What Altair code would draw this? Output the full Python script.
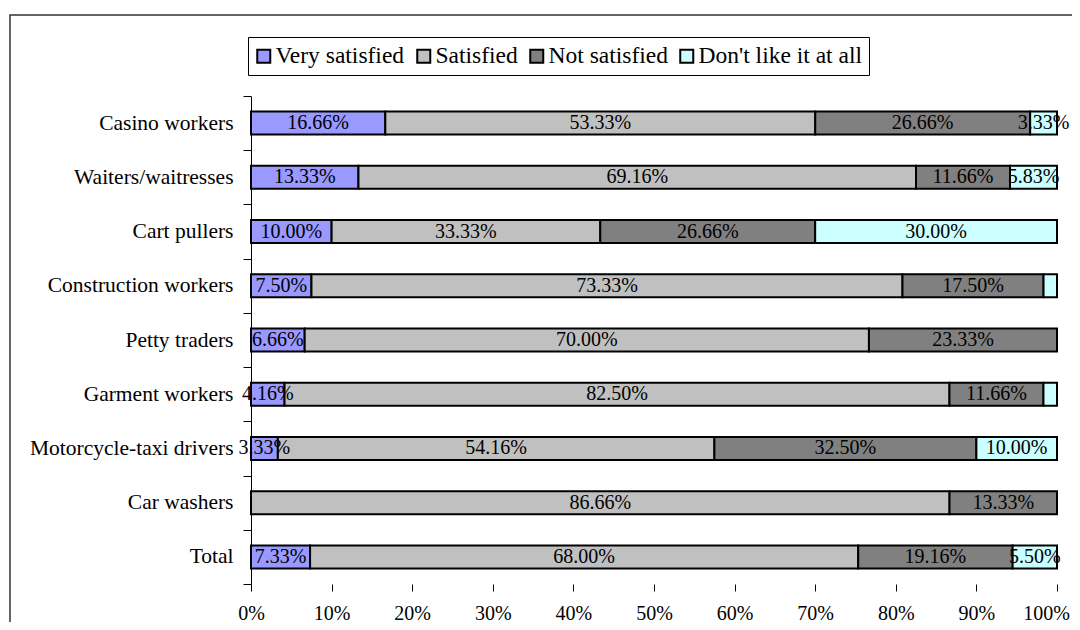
import altair as alt
import pandas as pd

categories = ["Casino workers", "Waiters/waitresses", "Cart pullers",
              "Construction workers", "Petty traders", "Garment workers",
              "Motorcycle-taxi drivers", "Car washers", "Total"]
series = ["Very satisfied", "Satisfied", "Not satisfied", "Don't like it at all"]
colors = ["#9999FF", "#C0C0C0", "#808080", "#CCFFFF"]

very_satisfied = [16.66, 13.33, 10.00, 7.50, 6.66, 4.16, 3.33, 0.00, 7.33]
satisfied = [53.33, 69.16, 33.33, 73.33, 70.00, 82.50, 54.16, 86.66, 68.00]
not_satisfied = [26.66, 11.66, 26.66, 17.50, 23.33, 11.66, 32.50, 13.33, 19.16]
dont_like = [3.33, 5.83, 30.00, 1.67, 0.00, 1.68, 10.00, 0.00, 5.50]

x_ticks = [0, 0.1, 0.2, 0.3, 0.4, 0.5, 0.6, 0.7, 0.8, 0.9, 1.0]

rows = []
for s_i, (s, vals) in enumerate(zip(series, [very_satisfied, satisfied, not_satisfied, dont_like])):
    for c, v in zip(categories, vals):
        rows.append({"category": c, "series": s, "order": s_i, "value": v})
df = pd.DataFrame(rows)

FONT = "Liberation Serif"

base = alt.Chart(df).transform_stack(
    stack="value", groupby=["category"], as_=["v0", "v1"], offset="normalize",
    sort=[alt.SortField("order", order="ascending")]
).transform_calculate(
    mid="(datum.v0 + datum.v1) / 2", frac="datum.value / 100"
)

y_enc = alt.Y("category:N", sort=categories, title=None,
              scale=alt.Scale(paddingInner=0, paddingOuter=0),
              axis=alt.Axis(tickBand="extent", tickSize=8, labelPadding=10,
                            labelLimit=400,
                            domain=True, domainColor="black", tickColor="black",
                            labelFont=FONT, labelFontSize=21.5, labelColor="black"))

bars = base.transform_filter("datum.value > 0").mark_bar(
    height=23, stroke="black", strokeWidth=2
).encode(
    x=alt.X("v0:Q", title=None,
            scale=alt.Scale(domain=[0, 1], nice=False, zero=True),
            axis=alt.Axis(values=x_ticks, format=".0%", domain=False, grid=False,
                          tickSize=7, tickColor="black", labelPadding=12,
                          labelFlush=False, labelOverlap=False,
                          labelOffset={"condition": {"test": "datum.value >= 1", "value": -11},
                                       "value": 0},
                          labelFont=FONT, labelFontSize=20, labelColor="black")),
    x2="v1:Q",
    y=y_enc,
    color=alt.Color("series:N", sort=series,
                    scale=alt.Scale(domain=series, range=colors),
                    legend=alt.Legend(title=None, orient="none", direction="horizontal",
                                      legendX=-3, legendY=-59,
                                      strokeColor="black", fillColor="white", padding=7,
                                      symbolType="square", symbolSize=169,
                                      symbolOffset=-3,
                                      symbolStrokeColor="black", symbolStrokeWidth=2,
                                      labelFont=FONT, labelFontSize=23.5, labelColor="black",
                                      labelLimit=400,
                                      labelOffset=0, columnPadding=8)),
)

labels = base.transform_filter("datum.value >= 2").mark_text(
    font=FONT, fontSize=20, color="black", baseline="middle", align="center"
).encode(
    x=alt.X("mid:Q"),
    y=alt.Y("category:N", sort=categories),
    text=alt.Text("frac:Q", format=".2%"),
)

frame = alt.Chart(alt.Data(values=[{"k": 1}])).mark_rect(
    fillOpacity=0, stroke="#333333", strokeWidth=1.5
).encode(
    x=alt.value(-241), x2=alt.value(1000), y=alt.value(-81), y2=alt.value(700)
)

chart = alt.layer(frame, bars, labels).properties(
    width=806, height=488,
    autosize=alt.AutoSizeParams(type="none"),
    padding={"left": 243, "top": 88, "right": 15, "bottom": 38},
    background="white",
).configure_view(stroke=None)

chart.save("out.html", embed_options={"renderer": "svg", "actions": False})
